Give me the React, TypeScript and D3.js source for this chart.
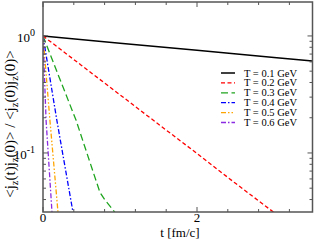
import React from 'react';
import * as d3 from 'd3';

// correlator ratio, one array pair per temperature
const labels = ['T = 0.1 GeV', 'T = 0.2 GeV', 'T = 0.3 GeV', 'T = 0.4 GeV', 'T = 0.5 GeV', 'T = 0.6 GeV'];
const t01 = [0, 1, 2, 3, 3.5];
const c01 = [1, 0.868, 0.755, 0.655, 0.61];
const t02 = [0, 0.5, 1, 1.5, 2, 2.5, 3];
const c02 = [1, 0.56, 0.314, 0.176, 0.099, 0.055, 0.031];
const t03 = [0, 0.2, 0.43, 0.6, 0.74, 0.8, 0.935];
const c03 = [1, 0.46, 0.19, 0.087, 0.046, 0.04, 0.031];
const t04 = [0, 0.18, 0.39];
const c04 = [1, 0.19, 0.031];
const t05 = [0, 0.09, 0.195];
const c05 = [1, 0.19, 0.031];
const t06 = [0, 0.04, 0.117];
const c06 = [1, 0.19, 0.031];

const xMajor = [0, 2];
const yMajor = [1, 0.1];

const colors = ['#000000', '#ff0000', '#1fa51f', '#0000ff', '#ffa500', '#8a2be2'];
const dashes = ['none', '4,2.5', '7,3.5', '5,2,1.5,2', '5,2,1.5,2,1.5,2', '5,2,1.5,2'];

const font = "'Times New Roman', 'Liberation Serif', 'DejaVu Serif', serif";

export default function App() {
  const width = 314;
  const height = 240;
  const left = 43, right = 312.5, top = 2, bottom = 212;

  const x = d3.scaleLinear().domain([0, 3.5]).range([left, right]);
  const y = d3.scaleLog().domain([0.0313, 1.95]).range([bottom, top]);

  const series = [
    [t01, c01], [t02, c02], [t03, c03], [t04, c04], [t05, c05], [t06, c06],
  ];
  const line = d3.line<[number, number]>().x(d => x(d[0])).y(d => y(d[1]));

  const xMinor = d3.range(0, 3.5001, 0.4).filter(v => !xMajor.some(m => Math.abs(m - v) < 1e-6));
  const yMinor: number[] = [];
  [0.01, 0.1, 1].forEach(dec => {
    for (let k = 2; k <= 9; k++) {
      const v = dec * k;
      if (v >= 0.0313 && v <= 1.95) yMinor.push(v);
    }
  });

  const axisColor = '#555';
  const ts = { fontFamily: font };

  return (
    <svg width={width} height={height} style={{ position: 'absolute', left: 0, top: 0, background: '#fff' }}>
      <defs>
        <clipPath id="plot">
          <rect x={left} y={top} width={right - left} height={bottom - top} />
        </clipPath>
      </defs>

      <g clipPath="url(#plot)" fill="none">
        {series.map(([tt, cs], i) => (
          <path
            key={i}
            d={line(tt.map((t, j) => [t, cs[j]] as [number, number])) || ''}
            stroke={colors[i]}
            strokeWidth={i === 0 ? 1.5 : 1.3}
            strokeDasharray={dashes[i]}
          />
        ))}
      </g>

      <g stroke={axisColor} strokeWidth={1}>
        {xMajor.map(v => (
          <g key={'xM' + v}>
            <line x1={x(v)} x2={x(v)} y1={bottom} y2={bottom - 5} />
            <line x1={x(v)} x2={x(v)} y1={top} y2={top + 5} />
          </g>
        ))}
        {xMinor.map(v => (
          <g key={'xm' + v}>
            <line x1={x(v)} x2={x(v)} y1={bottom} y2={bottom - 3} />
            <line x1={x(v)} x2={x(v)} y1={top} y2={top + 3} />
          </g>
        ))}
        {yMajor.map(v => (
          <g key={'yM' + v}>
            <line x1={left} x2={left + 5} y1={y(v)} y2={y(v)} />
            <line x1={right} x2={right - 5} y1={y(v)} y2={y(v)} />
          </g>
        ))}
        {yMinor.map(v => (
          <g key={'ym' + v}>
            <line x1={left} x2={left + 3} y1={y(v)} y2={y(v)} />
            <line x1={right} x2={right - 3} y1={y(v)} y2={y(v)} />
          </g>
        ))}
      </g>
      <rect x={left} y={top} width={right - left} height={bottom - top} fill="none" stroke={axisColor} strokeWidth={1.5} />

      <g fontSize={13} fill="#000">
        {xMajor.map(v => (
          <text key={'xl' + v} x={x(v)} y={bottom + 10} textAnchor="middle" style={ts}>{v}</text>
        ))}
        {yMajor.map(v => (
          <text key={'yl' + v} x={left - 8} y={y(v) + 6} textAnchor="end" style={ts}>
            10<tspan dy={-6} fontSize={10}>{Math.round(Math.log10(v))}</tspan>
          </text>
        ))}
        <text x={180} y={237} textAnchor="middle" style={ts}>t [fm/c]</text>
        <text
          transform={`translate(15,124) rotate(-90)`}
          textAnchor="middle"
          fontSize={15}
          style={ts}
        >
          {'<j'}<tspan dy={3} fontSize={10.5}>z</tspan><tspan dy={-3}>{'(t)j'}</tspan>
          <tspan dy={3} fontSize={10.5}>z</tspan><tspan dy={-3}>{'(0)> / <j'}</tspan>
          <tspan dy={3} fontSize={10.5}>z</tspan><tspan dy={-3}>{'(0)j'}</tspan>
          <tspan dy={3} fontSize={10.5}>z</tspan><tspan dy={-3}>{'(0)>'}</tspan>
        </text>
      </g>

      <g>
        {labels.map((lab, i) => {
          const ry = 73 + i * 9.9;
          return (
            <g key={lab}>
              <line x1={221} x2={235} y1={ry} y2={ry} stroke={colors[i]} strokeWidth={i === 0 ? 1.5 : 1.3} strokeDasharray={dashes[i]} />
              <text x={244} y={ry + 3.5} fontSize={10.5} fill="#000" style={ts}>{lab}</text>
            </g>
          );
        })}
      </g>
    </svg>
  );
}
